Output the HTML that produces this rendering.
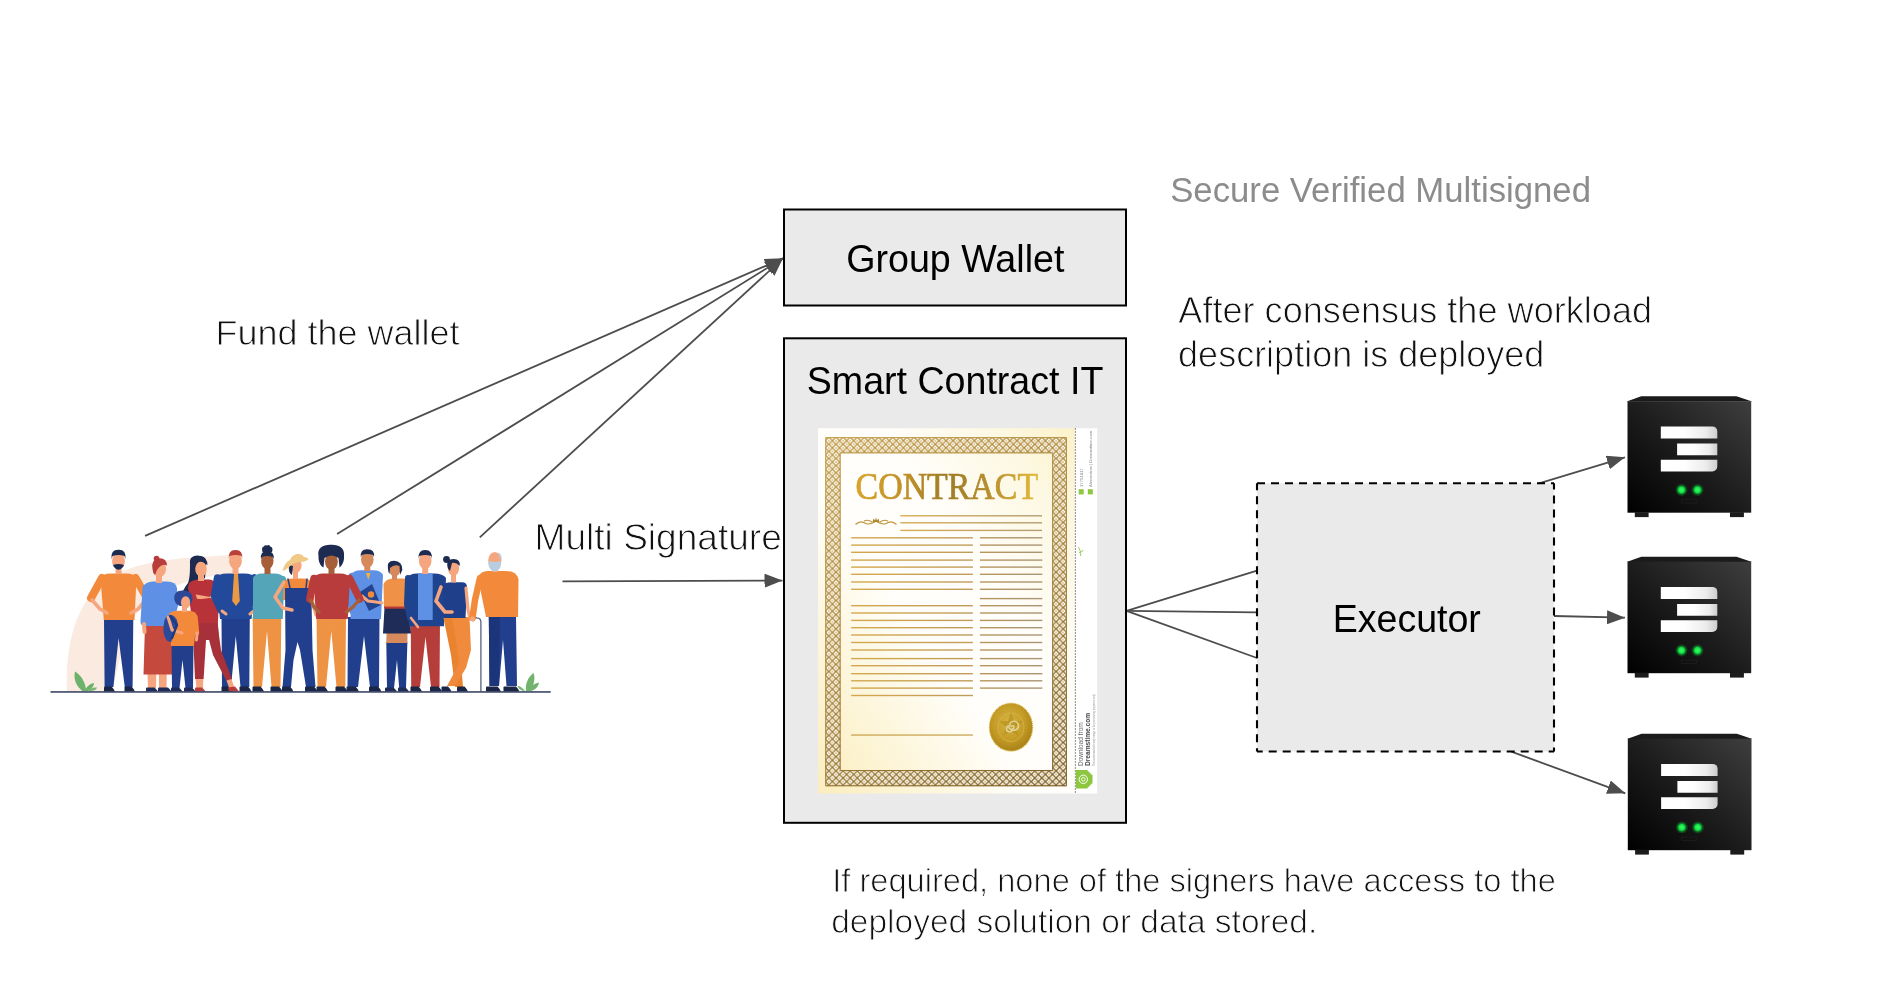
<!DOCTYPE html>
<html><head><meta charset="utf-8">
<style>
html,body{margin:0;padding:0;background:#fff;width:1879px;height:983px;overflow:hidden}
svg{display:block;will-change:transform}
.ar{font-family:"Liberation Sans",sans-serif;fill:#000}
.lt{font-family:"Liberation Sans",sans-serif;fill:#111;stroke:#fff;stroke-width:0.9px}
</style></head>
<body>
<svg width="1879" height="983" viewBox="0 0 1879 983">
<defs>
<marker id="ah" viewBox="0 0 18 14" refX="18" refY="7" markerWidth="18" markerHeight="14" markerUnits="userSpaceOnUse" orient="auto">
<path d="M0,0 L18,7 L0,14 Z" fill="#4d4d4d"/>
</marker>
<linearGradient id="sbody" x1="1" y1="0" x2="0" y2="1">
<stop offset="0" stop-color="#3e3e3e"/><stop offset="0.55" stop-color="#1a1a1a"/><stop offset="1" stop-color="#000"/>
</linearGradient>
<linearGradient id="sbar" x1="0" y1="0" x2="1" y2="0">
<stop offset="0" stop-color="#fff"/><stop offset="0.42" stop-color="#fefefe"/><stop offset="0.8" stop-color="#ececec"/><stop offset="1" stop-color="#cdcdcd"/>
</linearGradient>
<radialGradient id="led">
<stop offset="0" stop-color="#3dff6a"/><stop offset="0.45" stop-color="#12e043"/><stop offset="0.7" stop-color="#0a8a2a" stop-opacity="0.6"/><stop offset="1" stop-color="#0a8a2a" stop-opacity="0"/>
</radialGradient>
<linearGradient id="paper" x1="0" y1="1" x2="1" y2="0">
<stop offset="0" stop-color="#fbedbd"/><stop offset="0.22" stop-color="#fdf6dc"/><stop offset="0.42" stop-color="#fffefa"/><stop offset="0.62" stop-color="#fffefa"/><stop offset="0.85" stop-color="#fdf8e2"/><stop offset="1" stop-color="#fcf1c8"/>
</linearGradient>
<linearGradient id="goldtxt" x1="0" y1="0" x2="1" y2="0">
<stop offset="0" stop-color="#d8a42e"/><stop offset="0.3" stop-color="#bd8e28"/><stop offset="0.5" stop-color="#9e7c26"/><stop offset="0.75" stop-color="#b99030"/><stop offset="1" stop-color="#e2bb38"/>
</linearGradient>
<linearGradient id="lineg" x1="0" y1="0" x2="1" y2="0"><stop offset="0" stop-color="#d8ad52"/><stop offset="1" stop-color="#b39c72"/></linearGradient>
<linearGradient id="lineg2" x1="0" y1="0" x2="1" y2="0"><stop offset="0" stop-color="#d4a84c"/><stop offset="1" stop-color="#c09c5a"/></linearGradient>
<linearGradient id="lineg3" x1="0" y1="0" x2="1" y2="0"><stop offset="0" stop-color="#b9965a"/><stop offset="1" stop-color="#a89577"/></linearGradient>
<radialGradient id="seal" cx="0.45" cy="0.4" r="0.65">
<stop offset="0" stop-color="#d6b446"/><stop offset="0.6" stop-color="#c39a24"/><stop offset="1" stop-color="#a47e18"/>
</radialGradient>
<pattern id="knot" patternUnits="userSpaceOnUse" x="825.3" y="437.2" width="7.1" height="7.1">
<path d="M3.55,0.95 L6.15,3.55 L3.55,6.15 L0.95,3.55 Z M0,-2.6 L2.6,0 L0,2.6 L-2.6,0 Z M7.1,-2.6 L9.7,0 L7.1,2.6 L4.5,0 Z M0,4.5 L2.6,7.1 L0,9.7 L-2.6,7.1 Z M7.1,4.5 L9.7,7.1 L7.1,9.7 L4.5,7.1 Z" fill="#fffdf6"/>
<circle cx="3.55" cy="3.55" r="0.75" fill="#b89448"/>
<circle cx="0" cy="0" r="0.75" fill="#b89448"/><circle cx="7.1" cy="0" r="0.75" fill="#b89448"/><circle cx="0" cy="7.1" r="0.75" fill="#b89448"/><circle cx="7.1" cy="7.1" r="0.75" fill="#b89448"/>
</pattern>
<linearGradient id="kg" gradientUnits="userSpaceOnUse" x1="825" y1="437" x2="1067" y2="786">
<stop offset="0" stop-color="#c29c4a"/><stop offset="0.5" stop-color="#a8843a"/><stop offset="1" stop-color="#7e6128"/>
</linearGradient>
<g id="srv">
<path d="M-0.9,0.3 L13.8,-4.9 L109,-4.9 L124.6,0.3 Z" fill="#1b1b1b"/>
<rect x="0" y="0" width="123.7" height="111.5" fill="url(#sbody)"/>
<rect x="7.3" y="111" width="13.8" height="4.9" fill="#1c1c1c"/>
<rect x="102.5" y="111" width="13.9" height="4.9" fill="#1c1c1c"/>
<path d="M33.3,25.2 H84.8 A5,5 0 0 1 89.8,30.2 V37.4 H33.3 Z" fill="url(#sbar)"/>
<path d="M49.6,42.3 H89.8 V54 H49.6 Z" fill="url(#sbar)"/>
<path d="M33.3,58.6 H89.8 V65.3 A5,5 0 0 1 84.8,70.3 H33.3 Z" fill="url(#sbar)"/>
<circle cx="54" cy="88.7" r="6.5" fill="url(#led)"/>
<circle cx="70" cy="88.7" r="6.5" fill="url(#led)"/>
<rect x="53.8" y="98.4" width="15.2" height="3.4" fill="none" stroke="#1e1e1e" stroke-width="0.8"/>
</g>
</defs>
<rect width="1879" height="983" fill="#fff"/>

<!-- PEOPLE -->
<g id="people">
<path d="M67,691.5 C65,640 78,605 100,585 C120,568 150,560 200,557 L231,555 L233,574 C185,577 150,592 128,625 L112,691.5 Z" fill="#fbeadf" />
<path d="M82.5,691 C77,687 73,680 75,671.5 C81,675 86,683 86,691 Z" fill="#6db26b" />
<path d="M85,691 C86,687 89,684 94,683 C94,687 90,690 88,691 Z" fill="#6db26b" />
<path d="M88.5,691 C90,688.5 93,687 97,687.5 C96.5,690 93,691 90.5,691 Z" fill="#78b873" />
<path d="M526,691 C525,684 528,677 533.5,673 C536,679 533,687 530,691 Z" fill="#72b36e" />
<path d="M528.5,691 C530,687 533.5,683.5 539,682.5 C538.5,686.5 535,690 531,691 Z" fill="#72b36e" />
<path d="M525,691 C523,688 520.5,686 517.5,686 C518.5,689.5 521.5,691 525.5,691 Z" fill="#7cbb77" />
<path d="M190,563 C189,557 195,554 201,556 C206,557 207,561 206,566 L205,578 L199,582 L192,586 L186,600 L181,604 C180,595 184,588 188,583 C190,578 190,570 190,563 Z" fill="#1e2b50" />
<path d="M104,619 H133.3 L132.6,687 H124.8 L118.6,638 L113.4,687 H104.6 Z" fill="#213f8c" />
<path d="M104,691.6 L104,687.5 Q104,686.5 105,686.5 L111.5,686.5 Q113.5,688.5 115.0,691.6 Z" fill="#1b2545" />
<path d="M124.5,691.6 L124.5,687.5 Q124.5,686.5 125.5,686.5 L131.5,686.5 Q133.5,688.5 135.0,691.6 Z" fill="#1b2545" />
<path d="M100.5,578 Q102,573.4 111,573.4 H126 Q135,573.4 136.5,578 L134.5,620 H103.8 Z" fill="#f38a3b" />
<path d="M102,578 L91,598" fill="none" stroke="#f38a3b" stroke-width="8" stroke-linecap="round" stroke-linejoin="round"/>
<path d="M135.5,578 L147,598" fill="none" stroke="#f38a3b" stroke-width="8" stroke-linecap="round" stroke-linejoin="round"/>
<path d="M92,600 L100,609 L107,613" fill="none" stroke="#f6a67f" stroke-width="3.6" stroke-linecap="round" stroke-linejoin="round"/>
<path d="M146,600 L138,609 L131,613" fill="none" stroke="#f6a67f" stroke-width="3.6" stroke-linecap="round" stroke-linejoin="round"/>
<rect x="115.6" y="566" width="6" height="8" fill="#f6a67f"/>
<ellipse cx="118.5" cy="561" rx="6.4" ry="7.8" fill="#f6a67f"/>
<path d="M111.6,559 Q110.5,549.6 118.5,549.8 Q126.5,549.6 125.4,559 L124.4,556 Q118.5,553.8 112.6,556 Z" fill="#1e2b50" />
<path d="M112.3,562 Q113,569 118.5,569.7 Q124,569 124.7,562 L124,565 Q118.5,563 113,565 Z" fill="#1e2b50" />
<path d="M147.5,673 H156.3 L156,688 H148 Z" fill="#f6a67f" />
<path d="M158.8,673 H166.8 L166.5,688 H159 Z" fill="#f6a67f" />
<path d="M146,691.6 L146,688.6 Q146,687.6 147,687.6 L154.5,687.6 Q156.5,689.6 158.0,691.6 Z" fill="#1f2c58" />
<path d="M158,691.6 L158,688.6 Q158,687.6 159,687.6 L168,687.6 Q170,689.6 171.5,691.6 Z" fill="#1f2c58" />
<path d="M145,625 H172.5 L173.5,674.5 H143.5 Z" fill="#c54a3d" />
<path d="M143.5,587 Q145,582 153,581.6 H167 Q176,582 177,588 L178,606 L172.5,626 H145 L143,624 Z" fill="#5e90e6" />
<path d="M146,588 L144,622" fill="none" stroke="#5e90e6" stroke-width="7" stroke-linecap="round" stroke-linejoin="round"/>
<path d="M144,624 L144.5,632" fill="none" stroke="#f6a67f" stroke-width="4" stroke-linecap="round" stroke-linejoin="round"/>
<rect x="156" y="575" width="6" height="8" fill="#f6a67f"/>
<ellipse cx="159.5" cy="569" rx="6.5" ry="8" fill="#f6a67f"/>
<path d="M152.5,569 Q151,559 158.5,558.2 Q167,557.5 167,566 L166,565 Q161,564 157,570 L155,575 Q152.8,573 152.5,569 Z" fill="#b83c3b" />
<circle cx="156.5" cy="558.6" r="2.8" fill="#b83c3b"/>
<path d="M192.5,622 H217.8 L219,640 L206,640 L203.6,679 H195 Z" fill="#a6313a" />
<path d="M195.5,679 H203.3 L203,688 H196.5 Z" fill="#f6a67f" />
<path d="M195,691.6 L195,688.6 Q195,687.6 196,687.6 L202,687.6 Q204,689.6 205.5,691.6 Z" fill="#b83c3b" />
<path d="M188.5,584 Q191,580 198,579.5 H209 Q215,580 216.5,585 L219,603 L217.8,623 H192.5 L190,605 Z" fill="#b8323a" />
<path d="M193,596 L210,599 L216,594" fill="none" stroke="#f6a67f" stroke-width="4" stroke-linecap="round" stroke-linejoin="round"/>
<path d="M191,588 L195,603 L210,601" fill="none" stroke="#b8323a" stroke-width="6" stroke-linecap="round" stroke-linejoin="round"/>
<rect x="198" y="574" width="6" height="7" fill="#f6a67f"/>
<ellipse cx="201" cy="569" rx="5.8" ry="7.6" fill="#f6a67f"/>
<path d="M194.5,566 Q195,557 201,557 Q207,557 207.5,565 Q203,561 199,561.5 Q196,564 194.5,566 Z" fill="#1e2b50" />
<path d="M171.5,645 H193.5 L193,688 H185.5 L182.5,660 L179.5,688 H172 Z" fill="#233f8c" />
<path d="M171,691.6 L171,688.6 Q171,687.6 172,687.6 L179,687.6 Q181,689.6 182.5,691.6 Z" fill="#1f2c58" />
<path d="M184,691.6 L184,688.6 Q184,687.6 185,687.6 L192,687.6 Q194,689.6 195.5,691.6 Z" fill="#1f2c58" />
<path d="M169,614 Q171,610.8 178,610.8 H189 Q196,611 197,616 L196,628 L193.8,646 H171 L170,630 Z" fill="#f38a3b" />
<path d="M195.5,617 L197,633" fill="none" stroke="#f38a3b" stroke-width="4.5" stroke-linecap="round" stroke-linejoin="round"/>
<path d="M197,633 L196.5,640" fill="none" stroke="#f6a67f" stroke-width="3" stroke-linecap="round" stroke-linejoin="round"/>
<path d="M167,616 Q163,620 163.5,632 Q165,642 171,642 L178,625 Q177,617 172,615 Z" fill="#2a4a99" />
<path d="M168,617 L172,630 L182,633" fill="none" stroke="#f6a67f" stroke-width="3" stroke-linecap="round" stroke-linejoin="round"/>
<path d="M170,616 L177,625 L172,638" fill="none" stroke="#1f3a80" stroke-width="2.3" stroke-linecap="round" stroke-linejoin="round"/>
<rect x="182" y="606" width="5" height="6" fill="#f6a67f"/>
<path d="M174.5,600 C173,593 178,590 183.5,590.5 C189.5,590.5 193,594 192.5,599.5 C192,603 190,605 188,606 L180,606 C177,605 175,603 174.5,600 Z" fill="#2b4795" />
<ellipse cx="185.6" cy="602.5" rx="4.6" ry="6.2" fill="#f6a67f"/>
<path d="M181,597 C183,594 188,594 190.5,597 L190.5,595 C188,592 183,592 181,595 Z" fill="#2b4795" />
<path d="M221.5,617 H249.8 L249.3,687 H240.5 L235.8,636 L231,687 H222 Z" fill="#213f8c" />
<path d="M221.5,691.6 L221.5,687.5 Q221.5,686.5 222.5,686.5 L229.5,686.5 Q231.5,688.5 233.0,691.6 Z" fill="#1b2545" />
<path d="M239.5,691.6 L239.5,687.5 Q239.5,686.5 240.5,686.5 L248,686.5 Q250,688.5 251.5,691.6 Z" fill="#1b2545" />
<path d="M216,578 Q218,573.4 227,573.4 H244 Q253,573.4 256,578 L251.5,619 H220 Z" fill="#22499a" />
<path d="M217.5,578 L214.5,596 L221,610" fill="none" stroke="#22499a" stroke-width="7.5" stroke-linecap="round" stroke-linejoin="round"/>
<path d="M254,578 L264,597 L256,609" fill="none" stroke="#22499a" stroke-width="7.5" stroke-linecap="round" stroke-linejoin="round"/>
<path d="M222,611 L226,614" fill="none" stroke="#f6a67f" stroke-width="3" stroke-linecap="round" stroke-linejoin="round"/>
<path d="M255,610 L250,614" fill="none" stroke="#f6a67f" stroke-width="3" stroke-linecap="round" stroke-linejoin="round"/>
<path d="M234,574 H238 L239.8,601 L236,606 L232.2,601 Z" fill="#ea9a45" />
<rect x="232.5" y="565.5" width="6" height="8.5" fill="#f6a67f"/>
<ellipse cx="235.5" cy="561" rx="6.4" ry="8" fill="#f6a67f"/>
<path d="M228.8,559 Q228,549.8 235.5,550 Q243,549.8 242.3,559 L241.5,556 Q235.5,554 229.6,556 Z" fill="#b8413a" />
<path d="M206,628 H218 L221,650 L232,679 L226.5,681 L213,655 Z" fill="#a6313a" />
<path d="M226.5,680.5 L231.5,679 L234.5,688 L229.5,689 Z" fill="#f6a67f" />
<path d="M228,687.5 L235,686.5 L239,691.6 L229,691.6 Z" fill="#b83c3b" />
<path d="M252.6,617 H281.3 L280.5,687 H271.5 L267,631 L262,687 H253.5 Z" fill="#ee9244" />
<path d="M252.5,691.6 L252.5,687.5 Q252.5,686.5 253.5,686.5 L260.5,686.5 Q262.5,688.5 264.0,691.6 Z" fill="#1b2545" />
<path d="M270.5,691.6 L270.5,687.5 Q270.5,686.5 271.5,686.5 L279,686.5 Q281,688.5 282.5,691.6 Z" fill="#1b2545" />
<path d="M253,578 Q255,573.8 262,573.6 H274 Q282,573.8 284.3,578 L282.8,619 H253 Z" fill="#55a5b8" />
<path d="M283,579 L286,592" fill="none" stroke="#55a5b8" stroke-width="6" stroke-linecap="round" stroke-linejoin="round"/>
<rect x="264.5" y="565" width="6" height="9" fill="#a65f38"/>
<ellipse cx="267.3" cy="561" rx="6.2" ry="8.2" fill="#a65f38"/>
<path d="M261,559 Q260,551 267,551 Q274.5,551 273.6,559 L272.6,557 Q267,555 262,557 Z" fill="#1e2b50" />
<path d="M262.5,552 Q261,547 264,546.5 Q264.5,544.5 267,545.5 Q269.5,544.3 270.5,546.8 Q273.5,547.5 272,552 Z" fill="#1e2b50" />
<path d="M283.5,582 Q286,578.5 293,578.5 H303 Q310,578.5 312,583 L311.5,600 H283 Z" fill="#f38a3b" />
<path d="M285,588 H311.3 L312.5,650 L315.5,687 H306 L300,650 L297.5,642 L293.5,660 L291,687 H282.5 L285.5,650 Z" fill="#213f8c" />
<path d="M288,579 L290,588" fill="none" stroke="#213f8c" stroke-width="1.5" stroke-linecap="round" stroke-linejoin="round"/>
<path d="M307,579 L306,588" fill="none" stroke="#213f8c" stroke-width="1.5" stroke-linecap="round" stroke-linejoin="round"/>
<path d="M282,691.6 L282,687.5 Q282,686.5 283,686.5 L290,686.5 Q292,688.5 293.5,691.6 Z" fill="#1b2545" />
<path d="M305,691.6 L305,687.5 Q305,686.5 306,686.5 L314,686.5 Q316,688.5 317.5,691.6 Z" fill="#1b2545" />
<path d="M284,582 L275,597 L283,608 L292,610" fill="none" stroke="#f6a67f" stroke-width="3.5" stroke-linecap="round" stroke-linejoin="round"/>
<path d="M312,584 L313,605 L316,615" fill="none" stroke="#f6a67f" stroke-width="3.2" stroke-linecap="round" stroke-linejoin="round"/>
<rect x="293" y="570" width="5" height="9" fill="#f6a67f"/>
<ellipse cx="295.8" cy="565.5" rx="5.8" ry="7.5" fill="#f6a67f"/>
<path d="M289,565 Q288,573 292,575 L293,566 Z" fill="#1e2b50" />
<path d="M282.5,571 Q284,563 290,560 Q292,555 297,554 Q302,553.5 304,557 Q308,557 308.5,559.5 Q305,562 300,562 Q293,563 289,567 Q286,570 282.5,571 Z" fill="#f0c987" />
<path d="M348,617 H379.5 L379,687 H370 L364,636 L358,687 H347.5 Z" fill="#213f8c" />
<path d="M346.5,691.6 L346.5,687.5 Q346.5,686.5 347.5,686.5 L355.5,686.5 Q357.5,688.5 359.0,691.6 Z" fill="#1b2545" />
<path d="M369,691.6 L369,687.5 Q369,686.5 370,686.5 L378,686.5 Q380,688.5 381.5,691.6 Z" fill="#1b2545" />
<path d="M351,575 Q353,570.5 361,570.3 H373 Q381,570.5 383,575 L381,619 H350.5 Z" fill="#5e90e6" />
<path d="M352,576 L350,600 L352.5,611" fill="none" stroke="#5e90e6" stroke-width="6.5" stroke-linecap="round" stroke-linejoin="round"/>
<path d="M366,573 L370.5,573 L368.3,580 Z" fill="#f2b33a" />
<path d="M360,592 L372,584 L380.8,605 L369,611 Z" fill="#23448e" />
<path d="M362,596 L368,601 L376,602 L382,603" fill="none" stroke="#f6a67f" stroke-width="3" stroke-linecap="round" stroke-linejoin="round"/>
<circle cx="371" cy="594.5" r="3.2" fill="#f08a3a"/>
<rect x="364.3" y="563" width="6" height="8" fill="#d68a5c"/>
<ellipse cx="367.3" cy="559.5" rx="6.3" ry="8" fill="#d68a5c"/>
<path d="M360.8,557 Q360,549 367.3,549.2 Q375,549 374,557 L373,555 Q367.3,553 361.8,555 Z" fill="#1e2b50" />
<path d="M316.5,617 H346 L345.3,687 H336.5 L331.3,631 L326,687 H317.5 Z" fill="#ee9244" />
<path d="M316.5,691.6 L316.5,687.5 Q316.5,686.5 317.5,686.5 L324.5,686.5 Q326.5,688.5 328.0,691.6 Z" fill="#1b2545" />
<path d="M335.5,691.6 L335.5,687.5 Q335.5,686.5 336.5,686.5 L344,686.5 Q346,688.5 347.5,691.6 Z" fill="#1b2545" />
<path d="M313.5,578 Q316,573.4 323,573.4 H340 Q348,573.4 350,578 L347.8,619 H316.2 Z" fill="#b83c3b" />
<path d="M314,578.5 L309.8,599" fill="none" stroke="#b83c3b" stroke-width="7.5" stroke-linecap="round" stroke-linejoin="round"/>
<path d="M349.5,578.5 L359.8,599" fill="none" stroke="#b83c3b" stroke-width="7.5" stroke-linecap="round" stroke-linejoin="round"/>
<path d="M310.5,600 L314,607 L319,612" fill="none" stroke="#a65f38" stroke-width="3.4" stroke-linecap="round" stroke-linejoin="round"/>
<path d="M359,600 L353,607 L346.5,612" fill="none" stroke="#a65f38" stroke-width="3.4" stroke-linecap="round" stroke-linejoin="round"/>
<rect x="328.5" y="565" width="6" height="9" fill="#a65f38"/>
<ellipse cx="331.4" cy="561.5" rx="6.4" ry="8.5" fill="#a65f38"/>
<path d="M318.5,556 C317,548 323,544.5 331,544.8 C339,544.5 345,548 344,556 C344.5,561 342,566 339.5,567.5 L338.5,558 Q331.5,553 324.5,558 L323.5,567.5 C320,566 318.3,561 318.5,556 Z" fill="#1e2b50" />
<path d="M386.3,642 H407.4 L406,688 H399.2 L397,660 L394,688 H387 Z" fill="#1f3c88" />
<path d="M386.5,633 H407.5 L407.4,643 H386.3 Z" fill="#d68a5c" />
<path d="M385,691.6 L385,688.6 Q385,687.6 386,687.6 L393.5,687.6 Q395.5,689.6 397.0,691.6 Z" fill="#1f2c58" />
<path d="M398,691.6 L398,688.6 Q398,687.6 399,687.6 L405.5,687.6 Q407.5,689.6 409.0,691.6 Z" fill="#1f2c58" />
<path d="M384.5,608 H409.5 L411,633.6 H383 Z" fill="#1f2c58" />
<path d="M383.5,584 Q386,579 393,578.6 H403 Q411,579 413.5,585 L417,600 L410,608 H384 Z" fill="#ef9147" />
<path d="M412,586 L415,604 L412.5,609" fill="none" stroke="#ef9147" stroke-width="6" stroke-linecap="round" stroke-linejoin="round"/>
<rect x="384" y="606.5" width="25.5" height="2.2" fill="#b73a36"/>
<rect x="392" y="573" width="5" height="7" fill="#d68a5c"/>
<ellipse cx="394.7" cy="569" rx="5.7" ry="7.4" fill="#d68a5c"/>
<path d="M388,569 Q386,561 394,560.8 Q402.5,561 402.3,570 L400,575 L399.5,566 Q394,564 390,568 L389.5,574 Q388,572 388,569 Z" fill="#1e2b50" />
<path d="M413,606 L417.5,626" fill="none" stroke="#d68a5c" stroke-width="2.6" stroke-linecap="round" stroke-linejoin="round"/>
<path d="M410.7,619 H440 L439.5,687 H431 L425.5,637 L420,687 H411.2 Z" fill="#b53e3a" />
<path d="M410.5,691.6 L410.5,687.5 Q410.5,686.5 411.5,686.5 L418.5,686.5 Q420.5,688.5 422.0,691.6 Z" fill="#1b2545" />
<path d="M430,691.6 L430,687.5 Q430,686.5 431,686.5 L438.5,686.5 Q440.5,688.5 442.0,691.6 Z" fill="#1b2545" />
<path d="M407,578 Q409.5,573.4 417,573.4 H434 Q443,573.4 446,578 L444,626.3 H409 Z" fill="#1f448f" />
<path d="M418,573.4 H432.7 L432.7,620 H418 Z" fill="#5e90e6" />
<path d="M408,578 L407,604 L410,618" fill="none" stroke="#1f448f" stroke-width="6" stroke-linecap="round" stroke-linejoin="round"/>
<rect x="422.2" y="565" width="6" height="9" fill="#f6a67f"/>
<ellipse cx="425.2" cy="561" rx="6.3" ry="8" fill="#f6a67f"/>
<path d="M418.6,558.5 Q418,549.8 425.2,550 Q432.5,549.8 431.8,558.5 L431,556 Q425.2,554 419.4,556 Z" fill="#1e2b50" />
<path d="M411,618 L418,627" fill="none" stroke="#f6a67f" stroke-width="2.6" stroke-linecap="round" stroke-linejoin="round"/>
<path d="M443.3,617 H458 L460,650 L463,687 H455 L451,655 Z" fill="#e9832f" />
<path d="M452,617 H469.5 L471,650 L466,668 L455,686 L447,686 L459,664 L456,640 Z" fill="#f08b3d" />
<path d="M441.5,691.6 L441.5,687.5 Q441.5,686.5 442.5,686.5 L448,686.5 Q450,688.5 451.5,691.6 Z" fill="#1b2545" />
<path d="M457,691.6 L457,687.5 Q457,686.5 458,686.5 L464.5,686.5 Q466.5,688.5 468.0,691.6 Z" fill="#1b2545" />
<path d="M442.8,585 Q445,582.3 451,582.3 H462 Q467,582.5 467,587 L465.5,618 H443.5 Z" fill="#1f3f8a" />
<path d="M441,587 L436,601 L445,612 L452,612" fill="none" stroke="#f6a67f" stroke-width="3.6" stroke-linecap="round" stroke-linejoin="round"/>
<path d="M466,588 L468,610 L470,618" fill="none" stroke="#f6a67f" stroke-width="3.2" stroke-linecap="round" stroke-linejoin="round"/>
<rect x="451" y="573" width="5" height="9.5" fill="#f6a67f"/>
<ellipse cx="453.5" cy="568.5" rx="5.6" ry="7.3" fill="#f6a67f"/>
<path d="M447.5,567 Q446,559 453.5,559 Q460.5,559 459.8,566 Q456,562 452,563 L450,571 Q447.8,569 447.5,567 Z" fill="#1e2b50" />
<circle cx="446.5" cy="559.5" r="3.4" fill="#1e2b50"/>
<path d="M471.5,620 Q473,617.5 477,617.8 Q480.8,618 480.9,622 V691.4" fill="none" stroke="#55627f" stroke-width="1.3"/>
<path d="M488.8,616 H516 L517,686 H506.5 L503,640 L499,686 H489.5 Z" fill="#213f8c" />
<path d="M488.8,616 H500 L499,686 H489.5 Z" fill="#1c357a" />
<path d="M486,691.6 L486,687.5 Q486,686.5 487,686.5 L497.5,686.5 Q499.5,688.5 501.0,691.6 Z" fill="#1b2545" />
<path d="M503.5,691.6 L503.5,687.5 Q503.5,686.5 504.5,686.5 L516,686.5 Q518,688.5 519.5,691.6 Z" fill="#1b2545" />
<path d="M478,578 Q480,571 488,571 H506 Q516,571 518.5,579 L518,617 H486 Z" fill="#f38a3b" />
<path d="M480,578 L475,600 L472.5,618" fill="none" stroke="#f38a3b" stroke-width="6.5" stroke-linecap="round" stroke-linejoin="round"/>
<circle cx="472.5" cy="619" r="2.4" fill="#f6a67f"/>
<rect x="492" y="565" width="6" height="7" fill="#f6a67f"/>
<ellipse cx="494.8" cy="560.5" rx="6.6" ry="8.6" fill="#f6a67f"/>
<path d="M488.2,563 Q489,571 494.8,571.5 Q500.5,571 501.3,563 L500,561 Q494.8,563 489.5,561 Z" fill="#b9cde0" />
<path d="M498,552.5 Q502.5,554 501.5,560 L499.5,557 Z" fill="#b9cde0" />
<rect x="50.5" y="691.2" width="500.2" height="1.5" fill="#2f3b5d"/>
</g>

<!-- connectors -->
<g stroke="#4d4d4d" stroke-width="1.8" fill="none">
<line x1="145.1" y1="535.8" x2="783" y2="258.3" marker-end="url(#ah)"/>
<line x1="337.1" y1="534" x2="783" y2="258.3" marker-end="url(#ah)"/>
<line x1="479.8" y1="537.3" x2="783" y2="258.3" marker-end="url(#ah)"/>
<line x1="562.5" y1="581.3" x2="782.5" y2="580.6" marker-end="url(#ah)"/>
<line x1="1126.5" y1="610.8" x2="1257" y2="570.7"/>
<line x1="1126.5" y1="610.8" x2="1257" y2="612.3"/>
<line x1="1126.5" y1="610.8" x2="1257" y2="658"/>
<line x1="1539" y1="483.3" x2="1625" y2="457.3" marker-end="url(#ah)"/>
<line x1="1554" y1="616" x2="1625" y2="617.7" marker-end="url(#ah)"/>
<line x1="1511.4" y1="751.7" x2="1625.3" y2="793.3" marker-end="url(#ah)"/>
</g>

<!-- boxes -->
<rect x="784" y="209.5" width="342" height="96" fill="#eaeaea" stroke="#000" stroke-width="2"/>
<rect x="784" y="338.3" width="342" height="484.5" fill="#eaeaea" stroke="#000" stroke-width="2"/>
<rect x="1257" y="483.3" width="297" height="268.2" fill="#eaeaea"/>
<g stroke="#000" stroke-width="2.1" stroke-dasharray="8 6" fill="none">
<path d="M1257,483.3 H1554"/>
<path d="M1554,483.3 V751.5" stroke-dashoffset="1.9"/>
<path d="M1257,751.5 H1554" stroke-dashoffset="2.3"/>
<path d="M1257,483.3 V751.5" stroke-dashoffset="1"/>
</g>

<text class="ar" transform="translate(955.3,271.6) scale(1,1.025)" font-size="37.65" text-anchor="middle">Group Wallet</text>
<text class="ar" transform="translate(955.05,393.9) scale(1,1.017)" font-size="37.6" text-anchor="middle">Smart Contract IT</text>
<text class="ar" transform="translate(1406.8,631.6) scale(1,1.02)" font-size="37.55" text-anchor="middle">Executor</text>

<!-- CONTRACT -->
<g id="contract">
<rect x="818" y="428.2" width="256.8" height="365.3" fill="url(#paper)"/>
<rect x="1074.8" y="428.2" width="22.4" height="365.3" fill="#fff"/>
<line x1="1075.4" y1="428.2" x2="1075.4" y2="793.5" stroke="#666" stroke-width="0.9" stroke-dasharray="1.6 1.4"/>
<path d="M825.3,437.2 H1066.9 V786.2 H825.3 Z M840.6,453.3 V770 H1052.2 V453.3 Z" fill="url(#kg)" fill-rule="evenodd"/>
<path d="M825.3,437.2 H1066.9 V786.2 H825.3 Z M840.6,453.3 V770 H1052.2 V453.3 Z" fill="url(#knot)" fill-rule="evenodd"/>
<path d="M825.8,437.7 H1066.4 V785.7 H825.8 Z M840.1,452.8 V770.5 H1052.7 V452.8 Z" fill="none" stroke="url(#kg)" stroke-width="1"/>
<text x="855.6" y="499" font-family="Liberation Serif, serif" font-size="37.5" fill="url(#goldtxt)" stroke="url(#goldtxt)" stroke-width="0.7" textLength="182.5" lengthAdjust="spacingAndGlyphs">CONTRACT</text>
<g fill="none" stroke="#c09540" stroke-width="1.1">
<path d="M855.5,524.5 C859,521 863,521.5 866,523.5 C869,525 872,523.5 875.5,521.5"/>
<path d="M896.5,524.5 C893,521 889,521.5 886,523.5 C883,525 880,523.5 876.5,521.5"/>
<path d="M864,521 C867,519.5 870,520.5 872,522 M888,521 C885,519.5 882,520.5 880,522"/>
</g>
<path d="M872.5,522 L873.5,518.5 L875,520.5 L876,517.5 L877,520.5 L878.5,518.5 L879.5,522 Z" fill="#b08530"/>

<g fill="url(#lineg)">
<rect x="900.3" y="515.1" width="141.7" height="1.4"/>
<rect x="900.3" y="522.1" width="141.7" height="1.4"/>
<rect x="900.3" y="529.7" width="141.7" height="1.4"/>
</g><g fill="url(#lineg2)">
<rect x="851.1" y="537.1" width="121.8" height="1.4"/>
<rect x="851.1" y="544.4" width="121.8" height="1.4"/>
<rect x="851.1" y="551.6" width="121.8" height="1.4"/>
<rect x="851.1" y="559.4" width="121.8" height="1.4"/>
<rect x="851.1" y="566.4" width="121.8" height="1.4"/>
<rect x="851.1" y="573.6" width="121.8" height="1.4"/>
<rect x="851.1" y="581.3" width="121.8" height="1.4"/>
<rect x="851.1" y="588.6" width="121.8" height="1.4"/>
<rect x="851.1" y="605.0" width="121.8" height="1.4"/>
<rect x="851.1" y="612.3" width="121.8" height="1.4"/>
<rect x="851.1" y="619.7" width="121.8" height="1.4"/>
<rect x="851.1" y="627.0" width="121.8" height="1.4"/>
<rect x="851.1" y="634.3" width="121.8" height="1.4"/>
<rect x="851.1" y="641.8" width="121.8" height="1.4"/>
<rect x="851.1" y="649.3" width="121.8" height="1.4"/>
<rect x="851.1" y="657.9" width="121.8" height="1.4"/>
<rect x="851.1" y="665.0" width="121.8" height="1.4"/>
<rect x="851.1" y="673.0" width="121.8" height="1.4"/>
<rect x="851.1" y="680.1" width="121.8" height="1.4"/>
<rect x="851.1" y="687.4" width="121.8" height="1.4"/>
<rect x="851.1" y="694.8" width="121.8" height="1.4"/>
</g><g fill="url(#lineg3)">
<rect x="979.9" y="537.1" width="62.4" height="1.4"/>
<rect x="979.9" y="544.4" width="62.4" height="1.4"/>
<rect x="979.9" y="551.6" width="62.4" height="1.4"/>
<rect x="979.9" y="559.4" width="62.4" height="1.4"/>
<rect x="979.9" y="566.4" width="62.4" height="1.4"/>
<rect x="979.9" y="573.6" width="62.4" height="1.4"/>
<rect x="979.9" y="581.3" width="62.4" height="1.4"/>
<rect x="979.9" y="588.6" width="62.4" height="1.4"/>
<rect x="979.9" y="597.9" width="62.4" height="1.4"/>
<rect x="979.9" y="605.0" width="62.4" height="1.4"/>
<rect x="979.9" y="612.3" width="62.4" height="1.4"/>
<rect x="979.9" y="619.7" width="62.4" height="1.4"/>
<rect x="979.9" y="627.0" width="62.4" height="1.4"/>
<rect x="979.9" y="634.3" width="62.4" height="1.4"/>
<rect x="979.9" y="641.8" width="62.4" height="1.4"/>
<rect x="979.9" y="649.3" width="62.4" height="1.4"/>
<rect x="979.9" y="657.9" width="62.4" height="1.4"/>
<rect x="979.9" y="665.0" width="62.4" height="1.4"/>
<rect x="979.9" y="673.0" width="62.4" height="1.4"/>
<rect x="979.9" y="680.1" width="62.4" height="1.4"/>
<rect x="979.9" y="687.4" width="62.4" height="1.4"/>
</g>
<rect x="851.1" y="734.4" width="121.8" height="1.3" fill="#c9a552"/>
<ellipse cx="1011" cy="727.2" rx="21.6" ry="23.9" fill="#c49a22" stroke="#d2ad3a" stroke-width="1.2" stroke-dasharray="1 1"/>
<ellipse cx="1011" cy="727.2" rx="21" ry="23.3" fill="url(#seal)"/>
<ellipse cx="1011" cy="727.2" rx="13" ry="14.4" fill="none" stroke="#d6b64e" stroke-width="0.9" opacity="0.8"/><path d="M1011,712 L1014,721 L1023,721 L1016,727 L1019,736 L1011,731 L1003,736 L1006,727 L999,721 L1008,721 Z" fill="#b8921e" opacity="0.7"/>
<path d="M1011,727.2 a1.5,1.5 0 1 1 1.5,1.5 a3,3 0 1 1 -3,-3 a4.5,4.5 0 1 1 4.5,4.5 a6,6 0 0 1 -5.5,-3" fill="none" stroke="#e6d9a4" stroke-width="1.6" opacity="0.9"/>
<rect x="1078.7" y="489.2" width="5" height="5.2" fill="#8dc63f"/><rect x="1087.8" y="489.2" width="5" height="5.2" fill="#8dc63f"/>
<g fill="#8a8a8a" font-family="Liberation Sans, sans-serif" font-size="4.2"><text transform="translate(1083,487) rotate(-90)">17751817</text><text transform="translate(1092,487) rotate(-90)">Alexandros | Dreamstime.com</text></g>
<g font-family="Liberation Sans, sans-serif"><text transform="translate(1082.6,766) rotate(-90)" font-size="6.5" fill="#6a6a6a">Download from</text><text transform="translate(1089.8,766) rotate(-90)" font-size="6.6" font-weight="bold" fill="#4a4a4a">Dreamstime.com</text><text transform="translate(1094.5,766) rotate(-90)" font-size="2.6" fill="#999">This watermarked comp image is for previewing purposes only.</text></g>
<path d="M1075.8,770 H1087 L1092.5,775.5 V783 L1087,788.6 H1075.8 Z" fill="#8dc63f"/>
<circle cx="1083.3" cy="779.3" r="4.2" fill="none" stroke="#fff" stroke-width="1"/><circle cx="1083.3" cy="779.3" r="1.8" fill="none" stroke="#fff" stroke-width="0.9"/>
<path d="M1078.5,547 c1,3 3,5 2,9 M1079,553 c2,-2 4,-1 4,-3" stroke="#9acd5a" stroke-width="1" fill="none"/>
</g>

<!-- SERVERS -->
<g id="servers">
<use href="#srv" x="1627.5" y="401.2"/>
<use href="#srv" x="1627.5" y="561.7"/>
<use href="#srv" x="1627.8" y="738.7"/>
</g>

<!-- Lato-like texts -->
<text class="lt" x="215.4" y="344.8" font-size="35.5" textLength="244.1" lengthAdjust="spacingAndGlyphs">Fund the wallet</text>
<text class="lt" x="534.6" y="550.4" font-size="36.2" textLength="247.2" lengthAdjust="spacingAndGlyphs">Multi Signature</text>
<text class="lt" x="1178.3" y="322.5" font-size="36.4" textLength="473.8" lengthAdjust="spacingAndGlyphs">After consensus the workload</text>
<text class="lt" x="1178.1" y="366.8" font-size="36.4" textLength="366.2" lengthAdjust="spacingAndGlyphs">description is deployed</text>
<text class="lt" x="832.2" y="891.9" font-size="33.1" textLength="723.6" lengthAdjust="spacingAndGlyphs">If required, none of the signers have access to the</text>
<text class="lt" x="831.2" y="933.3" font-size="33.1" textLength="486.1" lengthAdjust="spacingAndGlyphs">deployed solution or data stored.</text>
<text x="1170.2" y="202.4" font-size="34.4" font-family="Liberation Sans, sans-serif" fill="#8c8c8c" textLength="420.8" lengthAdjust="spacingAndGlyphs">Secure Verified Multisigned</text>
</svg>
</body></html>
